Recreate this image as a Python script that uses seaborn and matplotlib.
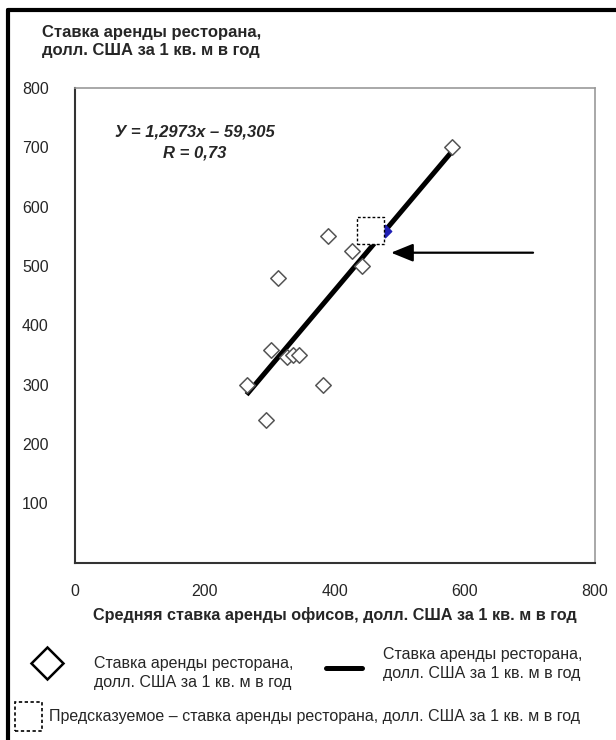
import numpy as np
import pandas as pd
import matplotlib
matplotlib.use("Agg")
import matplotlib.pyplot as plt
from matplotlib.transforms import offset_copy
from matplotlib.lines import Line2D
from matplotlib.patches import Rectangle
import seaborn as sns

# data
office_rent = [264, 294, 301, 313, 326, 336, 345, 382, 389, 426, 442, 580]
restaurant_rent = [300, 241, 359, 480, 346, 350, 350, 300, 550, 525, 500, 700]
slope = 1.2973
intercept = -59.305
r_value = "0,73"
predicted_x = 477
x_ticks = [0, 200, 400, 600, 800]
y_ticks = [100, 200, 300, 400, 500, 600, 700, 800]

series_name = "Ставка аренды ресторана,\nдолл. США за 1 кв. м в год"
x_title = "Средняя ставка аренды офисов, долл. США за 1 кв. м в год"
pred_name = "Предсказуемое – ставка аренды ресторана, долл. США за 1 кв. м в год"

sns.set_style("white")
plt.rcParams["font.family"] = ["Liberation Sans Narrow", "Liberation Sans", "DejaVu Sans"]

df = pd.DataFrame({"office": office_rent, "restaurant": restaurant_rent})
line_x = np.array([min(office_rent), max(office_rent)])
fit = pd.DataFrame({"office": line_x, "restaurant": slope * line_x + intercept})
pred_y = slope * predicted_x + intercept

W, H = 616, 740
fig = plt.figure(figsize=(W / 100, H / 100), dpi=100)
ax = fig.add_axes([75 / W, 1 - 562.7 / H, 520 / W, 474.7 / H])

sns.lineplot(data=fit, x="office", y="restaurant", color="black", lw=3.6,
             solid_capstyle="butt", ax=ax, zorder=2)
sns.scatterplot(data=df, x="office", y="restaurant", marker="D", s=62,
                facecolor="white", edgecolor="#555555", linewidth=1.1,
                ax=ax, zorder=3)

# predicted value: blue point on the line, dashed box just left of it
ax.scatter([predicted_x], [pred_y], marker="D", s=40, color="#1f1fb4", zorder=4)
box_tr = offset_copy(ax.transData, fig=fig, x=-15, y=0, units="dots")
ax.scatter([predicted_x], [pred_y], marker="s", s=(19.5) ** 2, facecolor="white",
           edgecolor="black", linewidth=1.0, linestyle=(0, (2, 1.5)),
           transform=box_tr, zorder=5)

tip_tr = offset_copy(ax.transData, fig=fig, x=6, y=-22, units="dots")
tail_tr = offset_copy(ax.transData, fig=fig, x=148, y=-22, units="dots")
ax.annotate("", xy=(predicted_x, pred_y), xycoords=tip_tr,
            xytext=(predicted_x, pred_y), textcoords=tail_tr,
            arrowprops=dict(arrowstyle="-|>,head_length=1.35,head_width=0.55",
                            color="black", lw=1.6, shrinkA=0, shrinkB=0))

ax.text(0.23, 0.885, "У = 1,2973x – 59,305\nR = " + r_value, transform=ax.transAxes,
        ha="center", va="center", fontsize=12, fontweight="bold", style="italic",
        linespacing=1.45)

ax.set_xlim(0, 800)
ax.set_ylim(0, 800)
ax.set_xticks(x_ticks)
ax.set_yticks(y_ticks)
ax.set_xlabel("")
ax.set_ylabel("")
ax.tick_params(axis="both", direction="inout", length=10, width=1.3,
               color="#333333", labelsize=11.5)
ax.tick_params(axis="y", pad=14)
ax.tick_params(axis="x", pad=10)
for side in ["left", "bottom"]:
    ax.spines[side].set_color("#333333")
    ax.spines[side].set_linewidth(1.5)
for side in ["top", "right"]:
    ax.spines[side].set_color("#999999")
    ax.spines[side].set_linewidth(1.2)

def fx(px):
    return px / W

def fy(py):
    return 1 - py / H

fig.text(fx(42), fy(41), series_name, ha="left", va="center", fontsize=12,
         fontweight="bold", linespacing=1.25)
fig.text(fx(335), fy(615), x_title, ha="center", va="center", fontsize=11.7,
         fontweight="bold")

# legend drawn by hand below the axes
fig.add_artist(Line2D([fx(46.7)], [fy(663)], marker="D", ms=16, mfc="white",
                      mec="black", mew=1.8, ls="none"))
fig.text(fx(94), fy(673), series_name, ha="left", va="center", fontsize=11.5,
         linespacing=1.3)
fig.add_artist(Line2D([fx(326), fx(362)], [fy(668), fy(668)], color="black",
                      lw=3.6))
fig.text(fx(383), fy(664), series_name, ha="left", va="center", fontsize=11.5,
         linespacing=1.3)
fig.add_artist(Rectangle((fx(15), fy(731)), fx(27), 29 / H, transform=fig.transFigure,
                         facecolor="white", edgecolor="black", lw=1.2,
                         linestyle=(0, (2, 1.5))))
fig.text(fx(49), fy(717), pred_name, ha="left", va="center", fontsize=11.5)

# black frame on the left and top edges
fig.add_artist(Line2D([fx(8), fx(8)], [fy(10), 0], color="black", lw=3))
fig.add_artist(Line2D([fx(8), 1], [fy(10), fy(10)], color="black", lw=3))

fig.savefig("out.png", dpi=100)
